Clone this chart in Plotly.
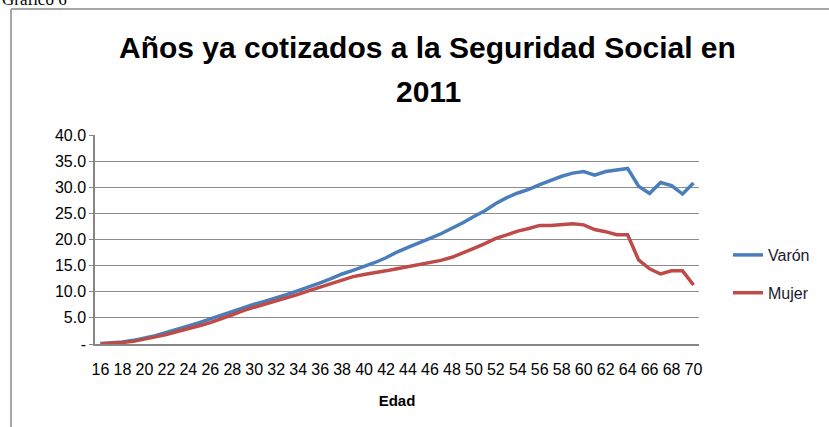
import plotly.graph_objects as go

edad = list(range(16, 71))
varon = [0.1, 0.2, 0.4, 0.7, 1.1, 1.6, 2.2, 2.8, 3.5, 4.1, 4.8, 5.5, 6.3, 7.0, 7.6, 8.2,
         8.8, 9.5, 10.2, 10.9, 11.7, 12.5, 13.4, 14.1, 14.8, 15.6, 16.5, 17.6, 18.5, 19.3,
         20.2, 21.1, 22.1, 23.2, 24.4, 25.5, 26.9, 28.0, 28.9, 29.6, 30.5, 31.3, 32.1, 32.7,
         33.0, 32.3, 33.0, 33.3, 33.6, 30.2, 28.8, 30.9, 30.3, 28.7, 30.8]
mujer = [0.0, 0.1, 0.3, 0.5, 0.9, 1.3, 1.8, 2.4, 2.9, 3.5, 4.1, 4.8, 5.6, 6.4, 7.0, 7.6,
         8.2, 8.9, 9.5, 10.2, 10.9, 11.6, 12.3, 12.9, 13.3, 13.6, 14.0, 14.4, 14.8, 15.2,
         15.5, 16.0, 16.6, 17.4, 18.3, 19.2, 20.2, 20.9, 21.6, 22.1, 22.7, 22.7, 22.9, 23.0,
         22.8, 21.9, 21.5, 20.9, 20.9, 16.1, 14.4, 13.4, 14.0, 14.0, 11.3]
y_ticks = [0, 5, 10, 15, 20, 25, 30, 35, 40]
y_labels = ["-", "5.0", "10.0", "15.0", "20.0", "25.0", "30.0", "35.0", "40.0"]
x_ticks = list(range(16, 71, 2))
title_lines = ["Años ya cotizados a la Seguridad Social en", "2011"]

W, H = 829, 427
L, R, T, B = 95, 130, 135, 83
pw = W - L - R
ph = H - T - B

fig = go.Figure()
fig.add_trace(go.Scatter(x=edad, y=varon, mode="lines", name="Varón",
                         line=dict(color="#4A7EBB", width=3.5), legendgroup="a"))
fig.add_trace(go.Scatter(x=edad, y=mujer, mode="lines", name="Mujer",
                         line=dict(color="#BE4B48", width=3.5), legendgroup="b"))

def px_x(p):
    return (p - L) / pw

def px_y(p):
    return (H - B - p) / ph

fig.update_layout(
    width=W, height=H,
    margin=dict(l=L, r=R, t=T, b=B, autoexpand=False),
    paper_bgcolor="white", plot_bgcolor="white",
    font=dict(family="Liberation Sans", color="#000000"),
    xaxis=dict(range=[15.5, 70.5], tickmode="array", tickvals=x_ticks,
               ticktext=[str(v) for v in x_ticks], showgrid=False,
               showline=True, linecolor="#868686", linewidth=1.5,
               ticks="", ticklabelstandoff=10,
               tickfont=dict(size=16, family="Liberation Sans Narrow, Liberation Sans"),
               title=dict(text="<b>Edad</b>", font=dict(size=15), standoff=19),
               zeroline=False, fixedrange=True),
    yaxis=dict(range=[0, 40], tickmode="array", tickvals=y_ticks, ticktext=y_labels,
               showgrid=True, gridcolor="#8C8C8C", gridwidth=1,
               showline=True, linecolor="#868686", linewidth=1.5,
               ticks="outside", ticklen=4, tickcolor="#868686",
               tickfont=dict(size=16), zeroline=False, fixedrange=True),
    legend=dict(x=px_x(728), xanchor="left", y=px_y(274), yanchor="middle",
                font=dict(size=16, color="#1A1A2E"), tracegroupgap=14,
                bgcolor="rgba(0,0,0,0)"),
    shapes=[
        dict(type="line", xref="paper", yref="paper", x0=px_x(11), x1=px_x(830),
             y0=px_y(9), y1=px_y(9), line=dict(color="#A6A6A6", width=2)),
        dict(type="line", xref="paper", yref="paper", x0=px_x(11), x1=px_x(11),
             y0=px_y(9), y1=px_y(430), line=dict(color="#A6A6A6", width=2)),
    ],
    annotations=[
        dict(text="<b>" + title_lines[0] + "</b>", xref="paper", yref="paper",
             x=px_x(427), y=px_y(48), xanchor="center", yanchor="middle", showarrow=False,
             font=dict(size=30, family="Liberation Sans", color="#000000")),
        dict(text="<b>" + title_lines[1] + "</b>", xref="paper", yref="paper",
             x=px_x(428), y=px_y(92), xanchor="center", yanchor="middle", showarrow=False,
             font=dict(size=30, family="Liberation Sans", color="#000000")),
        dict(text="Gráfico 6", xref="paper", yref="paper", x=px_x(0), y=px_y(-1),
             xanchor="left", yanchor="middle", showarrow=False,
             font=dict(family="Liberation Serif", size=17, color="#000000")),
    ],
)

fig.write_html("out.html", config={"displayModeBar": False},
               post_script="document.body.style.margin='0';document.body.style.overflow='hidden';")
